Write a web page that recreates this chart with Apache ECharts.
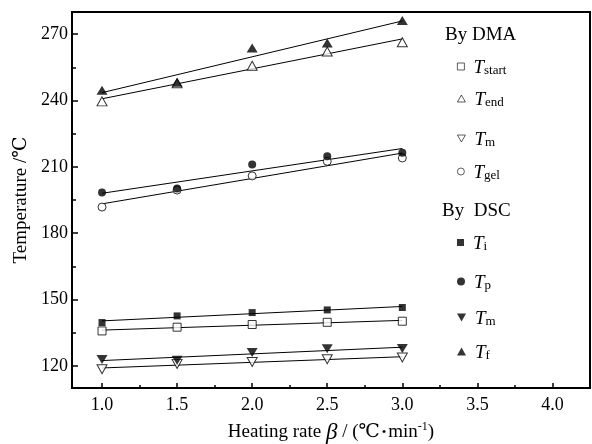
<!DOCTYPE html>
<html>
<head>
<meta charset="utf-8">
<script src="https://cdn.jsdelivr.net/npm/echarts@6/dist/echarts.min.js"></script>
<style>html,body{margin:0;padding:0;background:#fff}#c{width:592px;height:444px}</style>
</head>
<body>
<div id="c"></div>
<script>
// ---- data ----
const rates = [1.0, 1.5, 2.0, 2.5, 3.0];
const T_start = [135.8, 137.5, 138.7, 139.7, 140.2];
const T_end   = [239.6, 247.8, 255.7, 262.1, 266.3];
const Tm_DMA  = [118.5, 120.9, 121.8, 123.0, 123.8];
const T_gel   = [191.8, 199.5, 205.9, 212.5, 214.0];
const T_i     = [139.6, 142.6, 144.1, 145.3, 146.4];
const T_p     = [198.4, 200.2, 211.0, 214.8, 216.4];
const Tm_DSC  = [122.9, 122.6, 126.0, 127.7, 127.9];
const T_f     = [244.6, 248.2, 263.7, 266.0, 276.2];
const xTickLabels = [1.0, 1.5, 2.0, 2.5, 3.0, 3.5, 4.0];
const xMinorTicks = [1.25, 1.75, 2.25, 2.75, 3.25, 3.75];
const yTickLabels = [120, 150, 180, 210, 240, 270];
const yMinorTicks = [135, 165, 195, 225, 255];

const FONT = "'Liberation Serif','DejaVu Serif','Noto Sans CJK SC',serif";

const downTri = 'path://M0,0 L10,0 L5,8.66 Z';
const seriesDefs = [
  {name: 'T_start', sub: 'start', data: T_start, symbol: 'rect', size: 8, filled: false, lw: 7, lh: 7},
  {name: 'T_end', sub: 'end', data: T_end, symbol: 'triangle', size: [10, 9], filled: false, lw: 8, lh: 7},
  {name: 'Tm_DMA', sub: 'm', data: Tm_DMA, symbol: downTri, size: [10, 9], filled: false, lw: 8, lh: 7},
  {name: 'T_gel', sub: 'gel', data: T_gel, symbol: 'circle', size: 8, filled: false, lw: 7, lh: 7},
  {name: 'T_i', sub: 'i', data: T_i, symbol: 'rect', size: 7, filled: true, lw: 7, lh: 7},
  {name: 'T_p', sub: 'p', data: T_p, symbol: 'circle', size: 8, filled: true, lw: 8, lh: 8},
  {name: 'Tm_DSC', sub: 'm', data: Tm_DSC, symbol: downTri, size: [11, 9], filled: true, lw: 9, lh: 8},
  {name: 'T_f', sub: 'f', data: T_f, symbol: 'triangle', size: [11, 9], filled: true, lw: 9, lh: 8}
];

function fit(xs, ys) {
  const n = xs.length;
  const mx = xs.reduce((a, b) => a + b, 0) / n;
  const my = ys.reduce((a, b) => a + b, 0) / n;
  let sxy = 0, sxx = 0;
  for (let i = 0; i < n; i++) { sxy += (xs[i] - mx) * (ys[i] - my); sxx += (xs[i] - mx) * (xs[i] - mx); }
  const b = sxy / sxx, a = my - b * mx;
  const x0 = xs[0], x1 = xs[n - 1];
  return [[x0, a + b * x0], [x1, a + b * x1]];
}

const series = [];
seriesDefs.forEach(d => {
  series.push({
    type: 'line', name: d.name + '_fit', data: fit(rates, d.data), symbol: 'none',
    lineStyle: {color: '#000', width: 1}, z: 2, silent: true, legendHoverLink: false
  });
});
seriesDefs.forEach(d => {
  series.push({
    type: 'scatter', name: d.name, data: rates.map((x, i) => [x, d.data[i]]),
    symbol: d.symbol, symbolSize: d.size,
    itemStyle: d.filled ? {color: '#000', borderColor: '#000', borderWidth: 0}
                        : {color: '#fff', borderColor: '#000', borderWidth: 1},
    z: 3
  });
});

const legendPos = {
  T_start: 67, T_end: 99, Tm_DMA: 139, T_gel: 172,
  T_i: 243, T_p: 282, Tm_DSC: 318, T_f: 352
};
const subOf = {};
seriesDefs.forEach(d => subOf[d.name] = d.sub);

const legends = seriesDefs.map(d => ({
  data: [{name: d.name, itemStyle: d.filled ? {} : {borderWidth: 0.8}}],
  left: 457, top: legendPos[d.name] - 12.5, padding: 0,
  orient: 'vertical', itemWidth: d.lw, itemHeight: d.lh, selectedMode: false,
  formatter: n => '{t|T}{s|' + subOf[n] + '}',
  textStyle: {
    rich: {
      t: {fontFamily: FONT, fontStyle: 'italic', fontSize: 19, lineHeight: 22, color: '#000', padding: [3, 0, 0, 4], verticalAlign: 'top'},
      s: {fontFamily: FONT, fontSize: 13, lineHeight: 13, color: '#000', padding: [10, 0, 0, 0], verticalAlign: 'bottom'}
    }
  }
}));

const chart = echarts.init(document.getElementById('c'), null, {renderer: 'canvas'});
chart.setOption({
  animation: false,
  backgroundColor: '#fff',
  grid: {left: 72, right: 2, top: 12, bottom: 56, show: true, borderColor: '#000', borderWidth: 2,
         backgroundColor: 'transparent', containLabel: false, outerBoundsMode: 'none'},
  legend: legends,
  xAxis: [{
    type: 'value', min: 0.8, max: 4.25,
    axisLine: {show: true, lineStyle: {color: '#000', width: 2}},
    axisTick: {show: true, inside: true, length: 5, customValues: xTickLabels, lineStyle: {color: '#000', width: 1.5}},
    axisLabel: {customValues: xTickLabels, formatter: v => v.toFixed(1), fontFamily: FONT, fontSize: 18, color: '#000', margin: 8},
    splitLine: {show: false},
    name: 'Heating rate {b|β} / (℃{d|•}min{sup|-1})',
    nameLocation: 'middle', nameGap: 33,
    nameTextStyle: {
      fontFamily: FONT, fontSize: 19, color: '#000',
      rich: {
        b: {fontFamily: FONT, fontStyle: 'italic', fontSize: 23, color: '#000'},
        d: {fontFamily: FONT, fontSize: 13, color: '#000', padding: [0, 2, 0, 2]},
        sup: {fontFamily: FONT, fontSize: 12, color: '#000', verticalAlign: 'top', lineHeight: 22}
      }
    }
  }, {
    type: 'value', min: 0.8, max: 4.25, position: 'bottom',
    axisLine: {show: false},
    axisTick: {show: true, inside: true, length: 3, customValues: xMinorTicks, lineStyle: {color: '#000', width: 1.5}},
    axisLabel: {show: false}, splitLine: {show: false}
  }],
  yAxis: [{
    type: 'value', min: 110, max: 280,
    axisLine: {show: true, lineStyle: {color: '#000', width: 2}},
    axisTick: {show: true, inside: true, length: 6, customValues: yTickLabels, lineStyle: {color: '#000', width: 1.5}},
    axisLabel: {customValues: yTickLabels, fontFamily: FONT, fontSize: 18, color: '#000', margin: 4},
    splitLine: {show: false},
    name: 'Temperature /℃', nameLocation: 'middle', nameGap: 38, nameRotate: 90,
    nameTextStyle: {fontFamily: FONT, fontSize: 19, color: '#000'}
  }, {
    type: 'value', min: 110, max: 280, position: 'left',
    axisLine: {show: false},
    axisTick: {show: true, inside: true, length: 4, customValues: yMinorTicks, lineStyle: {color: '#000', width: 1.5}},
    axisLabel: {show: false}, splitLine: {show: false}
  }],
  graphic: [
    {type: 'text', left: 445, top: 26, style: {text: 'By DMA', font: "19px 'Liberation Serif'", fill: '#000'}},
    {type: 'text', left: 442, top: 202, style: {text: 'By  DSC', font: "19px 'Liberation Serif'", fill: '#000'}}
  ],
  series: series
});
</script>
</body>
</html>
